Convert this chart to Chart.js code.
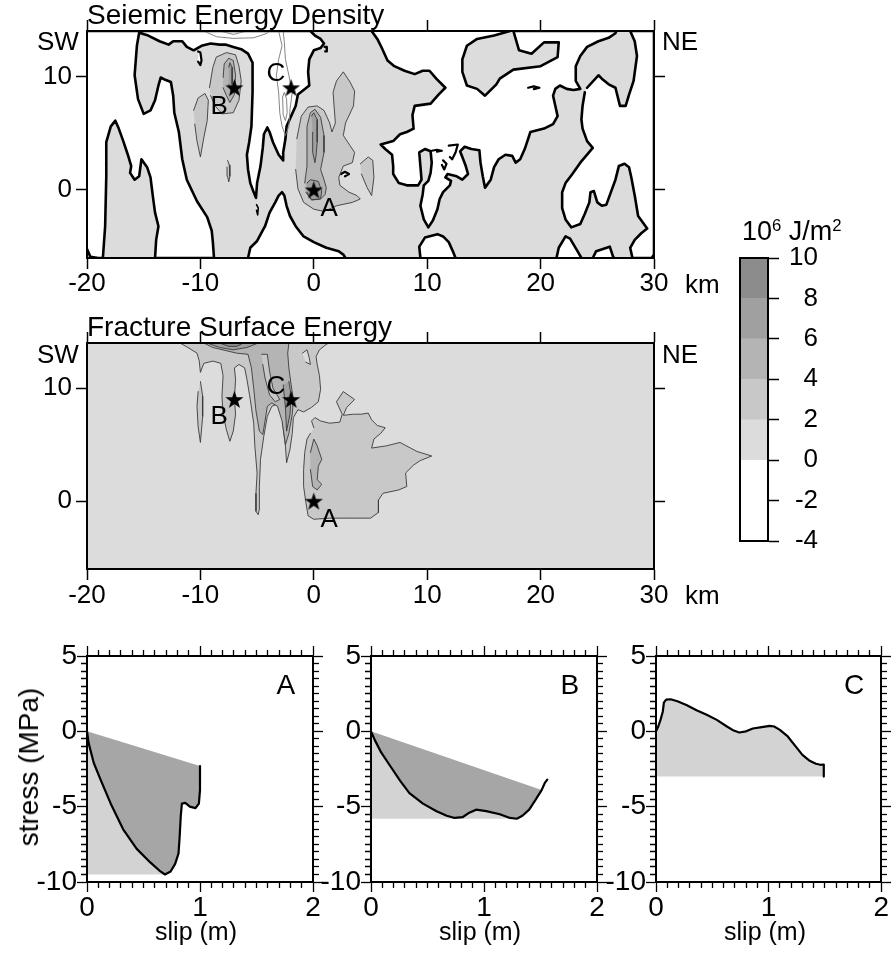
<!DOCTYPE html>
<html><head><meta charset="utf-8"><title>Seismic and fracture energy</title>
<script src="https://cdn.jsdelivr.net/npm/chart.js@4.4.1/dist/chart.umd.min.js"></script>
<style>
html,body{margin:0;padding:0;background:#fff;}
body{position:relative;width:891px;height:954px;overflow:hidden;font-family:"Liberation Sans",Arial,Helvetica,sans-serif;color:#000;}
canvas{position:absolute;}
.tx{position:absolute;white-space:nowrap;line-height:1;}
sup{font-size:62%;vertical-align:0;position:relative;top:-0.55em;}
</style></head><body>
<canvas id="sed" width="760" height="300" style="left:0;top:0"></canvas>
<canvas id="fse" width="760" height="320" style="left:0;top:300px"></canvas>
<canvas id="cbar" width="118" height="320" style="left:700px;top:240px"></canvas>
<canvas id="pA" width="330" height="324" style="left:0;top:630px"></canvas>
<canvas id="pB" width="330" height="324" style="left:290px;top:630px"></canvas>
<canvas id="pC" width="316" height="324" style="left:575px;top:630px"></canvas>
<div id="texts"></div>
<script>
// ---------------- DATA ----------------
const mapXTicks = [-20, -10, 0, 10, 20, 30];
const mapYTicks = [0, 10];
const mapXRange = [-20, 30];
const mapYRange = [-6, 14];
const colorLevels = [-4, 0, 2, 4, 6, 8, 10];
const hypocenters = [{name: 'A', x: 0, y: 0}, {name: 'B', x: -7, y: 9}, {name: 'C', x: -2, y: 9}];
const sedPointLabels = [{text: 'A', x: 1.35, y: -1.5}, {text: 'B', x: -8.35, y: 7.5}, {text: 'C', x: -3.35, y: 10.35}];
const fsePointLabels = [{text: 'A', x: 1.35, y: -1.5}, {text: 'B', x: -8.35, y: 7.6}, {text: 'C', x: -3.35, y: 10.3}];

// Seismic energy density: negative (below 0) regions, bounded by the 0 contour [km along strike, km]
const sedNegWest = [[-20,14],[-0.3,14],[0.1,13.6],[0.6,13.3],[0.9,12.9],[0.6,12.5],[0.0,12.3],[-0.4,11.5],[-0.5,10.4],[-0.4,9.2],[-0.9,8.8],[-1.4,8.4],[-1.6,7.4],[-2.0,6.5],[-2.4,5.6],[-2.5,4.5],[-2.7,3.3],[-2.7,2.6],[-3.1,3.1],[-3.6,4.2],[-3.9,5.1],[-4.1,5.5],[-4.4,4.9],[-4.5,3.7],[-4.7,2.1],[-5.0,0.6],[-5.1,-0.7],[-5.3,-0.2],[-5.6,0.6],[-5.8,1.8],[-5.9,3.1],[-5.7,4.2],[-5.5,5.6],[-5.4,8.6],[-5.4,11.2],[-5.8,12.0],[-6.4,12.4],[-7.1,12.6],[-7.8,12.8],[-8.3,12.8],[-9.1,12.9],[-9.9,12.7],[-10.6,12.3],[-11.2,12.6],[-11.6,13.1],[-12.4,13.1],[-12.8,12.8],[-13.6,13.1],[-14.6,13.6],[-15.4,13.85],[-15.6,12.7],[-15.8,10.1],[-15.5,8.0],[-15.0,6.7],[-14.4,7.0],[-14.0,7.9],[-13.7,9.2],[-13.5,9.9],[-13.1,9.7],[-12.6,9.5],[-12.4,8.3],[-12.3,6.8],[-11.9,5.1],[-11.6,2.7],[-11.2,0.9],[-10.3,-1.0],[-9.4,-2.4],[-9.0,-3.6],[-8.9,-4.6],[-8.8,-6],[-14.0,-6],[-13.9,-4.4],[-13.7,-3.2],[-14.0,-2.0],[-14.2,-0.5],[-14.4,1.1],[-14.7,2.0],[-15.2,2.7],[-15.4,1.2],[-15.8,0.9],[-16.2,1.5],[-16.1,2.1],[-16.4,3.1],[-16.8,4.3],[-17.2,5.4],[-17.5,6.1],[-17.9,5.6],[-18.3,4.2],[-18.3,1.2],[-18.4,-3.2],[-18.6,-6],[-19.0,-6],[-19.7,-5.9],[-20,-5.2]];
const sedNegMiddle = [[-5.8,-6],[-5.6,-5.1],[-5.0,-4.5],[-4.3,-3.2],[-3.9,-2.0],[-3.4,-1.1],[-3.1,-0.5],[-2.8,-0.2],[-2.6,-0.5],[-2.4,-1.4],[-2.1,-2.3],[-1.6,-3.2],[-0.9,-4.1],[0.0,-4.6],[1.1,-5.1],[2.2,-5.4],[2.6,-5.7],[2.8,-6]];
const sedNegNorth = [[5.1,14],[5.6,13.3],[6.0,12.5],[6.5,11.4],[7.1,10.9],[8.0,10.5],[8.9,10.2],[9.6,10.5],[10.2,10.5],[10.8,9.8],[11.6,9.0],[11.0,8.4],[10.3,7.6],[8.9,7.4],[8.7,6.6],[8.8,5.4],[8.2,5.1],[7.6,4.9],[7.0,4.3],[5.9,4.0],[6.3,3.6],[6.9,3.1],[7.0,2.1],[7.0,1.4],[7.5,0.6],[8.2,0.4],[9.2,0.4],[9.5,0.9],[9.4,2.1],[9.3,3.3],[9.8,3.6],[10.3,3.4],[10.4,2.4],[10.3,1.5],[10.1,0.8],[9.7,0.4],[9.6,-0.4],[9.4,-1.4],[9.7,-2.6],[10.1,-3.3],[10.5,-2.7],[10.9,-1.7],[11.1,-0.8],[11.4,-0.2],[12.0,0.4],[12.1,0.8],[11.6,1.1],[11.8,1.4],[12.6,1.2],[13.1,0.9],[13.6,1.4],[13.4,2.1],[13.1,2.9],[12.9,3.4],[13.3,3.8],[13.9,3.6],[14.6,3.5],[14.7,2.4],[14.9,1.2],[15.1,0.2],[15.6,0.9],[15.9,2.0],[16.3,2.7],[16.9,3.1],[17.5,3.0],[17.8,2.4],[18.2,2.7],[18.6,3.6],[19.1,5.1],[20.3,5.4],[21.1,5.8],[21.5,6.5],[21.3,7.4],[21.1,8.3],[21.3,8.9],[21.7,9.2],[22.3,8.9],[22.9,8.8],[23.5,8.9],[23.1,9.6],[23.1,10.9],[23.5,11.8],[24.1,12.6],[25.1,13.1],[26.0,13.4],[26.6,13.8],[26.7,14],[17.6,14],[18.1,12.3],[19.2,12.0],[20.3,13.0],[21.6,13.0],[21.5,11.7],[20.0,10.9],[17.6,10.6],[16.4,9.8],[16.1,9.3],[15.1,8.3],[14.4,8.9],[13.5,9.2],[13.1,10.4],[13.1,11.5],[13.5,12.7],[14.4,13.3],[15.9,13.6],[17.3,14]];
const sedNegEast = [[24.1,9.0],[25.1,10.1],[25.4,9.8],[26.0,9.3],[26.6,9.0],[27.0,7.4],[27.5,7.4],[27.8,8.4],[28.2,9.6],[28.5,11.8],[28.3,13.1],[27.9,14],[30,14],[30,-5.7],[29.8,-6],[28.1,-6],[27.9,-5.1],[28.3,-4.4],[28.9,-3.8],[29.4,-3.4],[28.6,-2.3],[28.3,-0.5],[28.0,1.1],[27.8,2.0],[27.4,2.3],[26.9,2.1],[26.6,0.9],[26.2,-0.2],[25.8,-1.3],[25.4,-1.4],[25.0,-1.1],[24.7,-0.1],[24.4,-0.2],[24.3,-1.1],[23.9,-2.1],[23.5,-3.0],[22.7,-3.3],[22.2,-2.6],[21.9,-1.6],[21.9,-0.2],[22.2,0.6],[22.8,1.4],[23.5,2.4],[24.1,3.1],[24.6,3.7],[24.1,4.3],[23.7,5.4],[23.6,6.2],[23.7,7.4],[23.9,8.6]];
const sedNegSouth1 = [[9.4,-6],[9.3,-5.0],[9.8,-4.2],[10.9,-3.9],[11.4,-4.1],[11.9,-4.6],[12.3,-5.5],[12.5,-6]];
const sedNegSouth2 = [[21.4,-6],[21.6,-5.1],[22.2,-4.1],[22.6,-4.3],[23.2,-5.3],[23.6,-6]];
const sedNegSouth3 = [[24.6,-6],[24.9,-5.4],[26.1,-5.0],[26.4,-5.9],[26.5,-6]];
const sedNegIsland1 = [[-10.2,12.2],[-10.0,12.1],[-9.9,11.4],[-10.0,11.0],[-10.2,11.3]];
const sedNegIsland2 = [[2.4,1.4],[2.75,1.6],[3.1,1.4],[2.75,1.2]];
const sedNegIsland3 = [[18.9,9.0],[19.4,9.12],[19.9,9.0],[19.4,8.88]];
const sedNegIsland4 = [[0.95,12.6],[1.1,12.6],[1.15,12.2],[1.0,12.2]];
const sedNegIsland5 = [[11.9,3.9],[12.7,4.0],[12.5,3.3],[12.2,2.7],[12.0,2.9]];
const sedNegIsland6 = [[11.4,2.6],[11.7,2.3],[11.5,1.8],[11.3,2.2]];
const sedNegIsland7 = [[10.4,3.45],[10.85,3.53],[11.3,3.45],[10.85,3.37]];
const sedNegIsland8 = [[-5.05,-1.3],[-4.9,-1.6],[-4.95,-2.2],[-5.05,-1.8]];
// open negative contours (-2 level) in the low-energy channel
const sedNegContour1 = [[-3.1,14],[-2.8,12.7],[-3.1,11.5],[-3.3,10.1],[-3.1,8.6],[-3.0,6.8],[-2.8,5.6],[-2.5,4.8],[-2.2,5.6],[-2.1,7.1],[-1.9,8.6],[-2.2,10.1],[-2.5,11.5],[-2.6,13.0],[-2.7,14]];
const sedNegContour2 = [[-2.75,8.2],[-2.7,6.6],[-2.5,6.1],[-2.35,6.8],[-2.4,8.0],[-2.6,8.6],[-2.75,8.2]];
const sedNegContour3 = [[-9.7,14],[-8.6,13.5],[-7.1,13.35],[-5.3,13.4],[-4.1,13.8],[-3.9,14]];
const sedNegContour4 = [[-8.3,14],[-7.1,13.7],[-5.9,14]];
// 2, 4, 6 contours of seismic energy density
const sedLevel2B = [[-9.2,9.0],[-8.9,10.8],[-8.6,11.7],[-7.7,12.1],[-6.9,11.9],[-6.6,10.9],[-6.4,9.6],[-6.6,7.9],[-7.1,6.8],[-8.1,6.7],[-8.7,7.4],[-9.1,8.3]];
const sedLevel2W = [[-10.6,7.0],[-10.2,8.1],[-9.6,8.5],[-9.3,7.9],[-9.4,6.1],[-9.7,4.6],[-10.0,2.9],[-10.3,4.3],[-10.5,5.8]];
const sedLevel2S = [[-7.6,2.6],[-7.45,2.2],[-7.4,1.2],[-7.5,0.7],[-7.6,1.2],[-7.65,2.0]];
const sedLevel2A = [[-1.5,4.5],[-1.1,6.5],[-0.5,7.3],[0.3,7.4],[0.9,7.0],[1.4,5.9],[1.6,5.1],[1.9,5.9],[1.7,8.6],[2.0,9.6],[2.6,10.4],[3.2,9.5],[3.6,8.7],[3.5,7.4],[2.8,5.9],[2.6,4.8],[3.2,3.9],[3.6,3.3],[3.4,2.4],[2.6,2.1],[2.2,1.1],[2.3,0.4],[3.1,-0.2],[3.8,-0.5],[4.1,-0.8],[3.4,-1.1],[2.0,-1.4],[0.9,-1.9],[0.0,-1.7],[-0.9,-1.1],[-1.4,0.1],[-1.6,1.8]];
const sedLevel2E = [[4.1,2.3],[4.8,2.9],[5.2,2.6],[5.3,1.1],[5.1,-0.5],[4.7,0.2],[4.2,1.4]];
const sedLevel4B = [[-8.0,9.9],[-7.9,11.1],[-7.5,11.6],[-7.1,11.4],[-6.9,10.1],[-7.0,8.4],[-7.4,7.7],[-7.7,8.3],[-8.0,9.0]];
const sedLevel4A = [[-0.8,0.6],[-0.6,2.1],[-0.6,5.6],[-0.3,6.8],[0.1,7.1],[0.6,6.4],[0.9,4.8],[0.9,3.3],[0.6,1.8],[0.9,0.9],[1.1,0.2],[1.0,-0.4],[0.6,-0.8],[-0.2,-0.9],[-0.7,-0.2]];
const sedLevel6B = [[-7.5,10.8],[-7.4,11.2],[-7.2,10.8],[-7.2,9.3],[-7.3,8.7],[-7.5,9.3]];
const sedLevel6A = [[-0.2,6.5],[0.0,6.8],[0.3,6.2],[0.3,4.2],[0.2,3.0],[0.1,2.4],[-0.1,3.3],[-0.1,5.1]];
const sedLevel6A0 = [[-0.6,0.6],[-0.3,0.9],[0.4,0.75],[0.7,-0.1],[0.6,-0.8],[-0.2,-0.85],[-0.6,-0.2]];

// Fracture surface energy contours (everything else is 0-2)
const fseLevel2N = [[-11.8,14],[-11.1,13.6],[-10.3,13.1],[-10.1,12.4],[-10.0,11.4],[-9.7,12.2],[-8.9,12.4],[-8.2,12.2],[-8.0,11.1],[-8.1,9.3],[-8.0,7.7],[-7.7,6.3],[-7.4,5.3],[-7.1,6.2],[-6.9,7.7],[-7.0,9.0],[-6.9,10.8],[-7.0,11.8],[-6.6,12.1],[-6.1,11.8],[-5.9,10.8],[-5.6,9.0],[-5.3,6.9],[-5.2,4.9],[-5.0,2.5],[-5.1,0.7],[-5.1,-0.9],[-4.9,-1.2],[-4.8,-0.7],[-4.8,1.3],[-4.7,3.7],[-4.4,5.8],[-4.1,7.5],[-3.7,8.4],[-3.2,8.6],[-2.8,8.0],[-2.7,6.5],[-2.5,4.9],[-2.4,3.4],[-2.1,4.6],[-1.9,6.0],[-1.8,7.4],[-1.4,8.1],[-0.9,7.9],[-0.2,8.3],[0.4,8.8],[0.6,9.9],[0.5,11.1],[0.3,12.1],[0.2,12.8],[0.5,13.4],[1.0,13.8],[1.3,14]];
const fseLevel2W = [[-10.0,10.6],[-9.8,9.3],[-9.8,7.5],[-10.0,5.2],[-10.2,6.6],[-10.3,8.4],[-10.2,9.7]];
const fseLevel2A = [[0.0,6.5],[-0.2,7.1],[0.1,7.4],[0.6,7.1],[1.4,6.9],[2.3,7.0],[2.5,7.7],[2.0,8.8],[2.6,9.7],[3.6,9.0],[2.9,8.3],[2.6,7.6],[3.5,7.7],[4.2,7.7],[4.8,7.8],[5.1,7.2],[5.6,6.7],[6.3,6.5],[5.9,6.0],[5.3,5.5],[5.1,4.7],[6.4,4.9],[7.6,5.2],[9.1,4.4],[10.4,4.0],[9.4,3.6],[8.8,3.2],[8.1,2.5],[8.2,1.3],[7.5,1.0],[6.1,0.7],[5.7,0.1],[5.7,-1.0],[5.0,-1.5],[3.2,-1.5],[1.4,-1.5],[0.0,-1.6],[-0.5,-1.3],[-0.7,-0.1],[-0.9,1.3],[-0.9,2.8],[-0.8,4.3],[-0.6,5.5],[-0.3,6.0]];
const fseLevel4N = [[-9.7,14],[-8.9,13.6],[-6.8,13.1],[-5.8,13.0],[-5.5,11.8],[-5.3,10.0],[-5.1,8.0],[-4.8,6.2],[-4.5,5.9],[-4.3,7.1],[-4.1,8.4],[-3.7,8.7],[-3.2,8.4],[-2.8,7.1],[-2.5,5.0],[-2.2,6.0],[-1.9,7.7],[-1.8,9.0],[-2.0,10.3],[-2.2,11.8],[-2.3,13.1],[-2.2,14]];
const fseLevel4A = [[-0.3,4.3],[0.0,5.5],[0.3,4.9],[0.7,3.7],[0.4,3.1],[0.3,1.9],[0.7,1.5],[0.3,1.0],[-0.1,1.3],[-0.3,2.8]];
const fseLevel2C = [[-4.6,13.0],[-4.1,13.0],[-3.9,11.5],[-3.6,10.0],[-3.0,9.0],[-3.4,8.8],[-3.9,9.4],[-4.3,10.9],[-4.5,12.1]];
const fseLevel6N = [[-9.4,14],[-8.3,13.6],[-7.1,13.4],[-5.9,13.6],[-4.9,14]];
const fseLevel6C = [[-2.7,10.3],[-2.5,8.3],[-2.4,6.2],[-2.1,7.7],[-2.0,9.4],[-2.2,10.6]];
const fseLevel8N = [[-8.3,14],[-7.5,13.7],[-6.8,13.7],[-6.2,14]];
const fseLevel0C = [[-1.0,13.1],[-0.6,13.4],[-0.4,12.7],[-0.3,12.1],[-0.7,12.3]];

// Stress (MPa) vs slip (m) at points A, B, C
const slipTicksMajor = [0, 1, 2];
const stressTicksMajor = [5, 0, -5, -10];
const curveA = [[0,0],[0.015,-0.8],[0.06,-2.1],[0.12,-3.2],[0.21,-4.8],[0.32,-6.5],[0.44,-7.8],[0.56,-8.7],[0.65,-9.3],[0.69,-9.5],[0.74,-9.3],[0.78,-8.8],[0.81,-8.1],[0.82,-7.0],[0.83,-5.6],[0.84,-4.8],[0.87,-4.75],[0.91,-5.0],[0.96,-5.1],[0.99,-4.8],[1.0,-3.9],[1.0,-3.0],[1.0,-2.3]];
const curveB = [[0,0],[0.035,-0.6],[0.09,-1.4],[0.17,-2.3],[0.26,-3.3],[0.34,-4.1],[0.46,-4.8],[0.58,-5.3],[0.67,-5.6],[0.74,-5.75],[0.81,-5.7],[0.87,-5.4],[0.93,-5.2],[1.02,-5.3],[1.14,-5.5],[1.23,-5.75],[1.29,-5.8],[1.34,-5.6],[1.40,-5.2],[1.46,-4.5],[1.51,-3.9],[1.54,-3.4],[1.56,-3.2]];
const curveC = [[0,0],[0.02,0.32],[0.04,0.76],[0.06,1.3],[0.07,1.9],[0.09,2.1],[0.13,2.13],[0.19,2.0],[0.27,1.75],[0.36,1.4],[0.45,1.1],[0.54,0.76],[0.63,0.32],[0.69,0.05],[0.74,-0.08],[0.80,0.0],[0.86,0.19],[0.94,0.28],[1.01,0.36],[1.05,0.32],[1.10,0.1],[1.17,-0.34],[1.24,-1.0],[1.30,-1.56],[1.36,-1.93],[1.42,-2.15],[1.46,-2.22],[1.49,-2.2],[1.49,-3.0]];
const chordEndSlipA = 1.0;
const chordEndSlipB = 1.51;
const chordEndSlipC = null;

// ---------------- STYLE / HELPERS ----------------
const FF = '"Liberation Sans", Arial, Helvetica, sans-serif';
const GREY = {neg: '#ffffff', l0: '#dcdcdc', l2: '#c8c8c8', l4: '#b4b4b4', l6: '#a0a0a0', l8: '#8c8c8c'};
const THIN = '#3a3a3a';
const pts = a => a.map(p => ({x: p[0], y: p[1]}));

function poly(a, fillColor, lineColor, lineWidth) {
  return {type: 'line', data: pts(a), fill: fillColor ? 'shape' : false, backgroundColor: fillColor || 'rgba(0,0,0,0)',
    borderColor: lineColor || 'rgba(0,0,0,0)', borderWidth: lineWidth || 0, pointRadius: 0, tension: 0,
    borderJoinStyle: 'round', borderCapStyle: 'round'};
}
function ordered(list) { list.forEach((d, i) => { d.order = -i; }); return list; }

function makeStar(r) {
  const s = document.createElement('canvas');
  const size = Math.ceil(2 * r + 2);
  s.width = s.height = size;
  const c = s.getContext('2d');
  c.translate(size / 2, size / 2 + 0.8);
  c.beginPath();
  for (let i = 0; i < 10; i++) {
    const rad = i % 2 ? r * 0.4 : r;
    const a = -Math.PI / 2 + i * Math.PI / 5;
    c.lineTo(rad * Math.cos(a), rad * Math.sin(a));
  }
  c.closePath(); c.fillStyle = '#000'; c.fill();
  return s;
}
const STAR = makeStar(9.5);

const areaBg = {id: 'areaBg', beforeDatasetsDraw(chart, args, opts) {
  if (!opts || !opts.color) return;
  const a = chart.chartArea, c = chart.ctx;
  c.save(); c.fillStyle = opts.color; c.fillRect(a.left, a.top, a.right - a.left, a.bottom - a.top); c.restore();
}};
const textMarks = {id: 'textMarks', afterDatasetsDraw(chart, args, opts) {
  if (!opts || !opts.items) return;
  const c = chart.ctx;
  c.save(); c.font = opts.font; c.fillStyle = '#000'; c.textAlign = 'center'; c.textBaseline = 'alphabetic';
  for (const it of opts.items) {
    const x = chart.scales.x.getPixelForValue(it.x), y = chart.scales.y.getPixelForValue(it.y);
    c.fillText(it.text, x, y + opts.shift);
  }
  c.restore();
}};
Chart.register(areaBg, textMarks);

const fixed = v => s => { if (s.isHorizontal()) s.height = v; else s.width = v; };
const setTicks = arr => s => { s.ticks = arr.map(v => ({value: v})); };
const BORDER = {display: true, color: '#000', width: 2, z: 2};

function mapOptions(dims, labels) {
  const tickFont = {family: FF, size: 26, lineHeight: 1};
  const gridMaj = {drawOnChartArea: false, tickLength: 11, tickColor: '#000', tickWidth: 1.5, z: 2};
  return {
    responsive: false, animation: false, events: [], devicePixelRatio: 1,
    layout: {padding: 0},
    plugins: {legend: {display: false}, tooltip: {enabled: false}, areaBg: {color: GREY.l0},
      textMarks: {items: labels, font: '26px ' + FF, shift: 9}},
    scales: {
      x: {type: 'linear', position: 'bottom', min: mapXRange[0], max: mapXRange[1], afterBuildTicks: setTicks(mapXTicks),
        ticks: {font: tickFont, color: '#000', padding: dims.xpad, maxRotation: 0, autoSkip: false, callback: v => String(v)},
        grid: gridMaj, border: BORDER, afterFit: fixed(dims.b)},
      x2: {type: 'linear', position: 'top', min: mapXRange[0], max: mapXRange[1], afterBuildTicks: setTicks(mapXTicks),
        ticks: {display: false}, grid: gridMaj, border: BORDER, afterFit: fixed(dims.t)},
      y: {type: 'linear', position: 'left', min: mapYRange[0], max: mapYRange[1], afterBuildTicks: setTicks(mapYTicks),
        ticks: {font: tickFont, color: '#000', padding: 4, autoSkip: false, callback: v => String(v)},
        grid: gridMaj, border: BORDER, afterFit: fixed(dims.l)},
      y2: {type: 'linear', position: 'right', min: mapYRange[0], max: mapYRange[1], afterBuildTicks: setTicks(mapYTicks),
        ticks: {display: false}, grid: gridMaj, border: BORDER, afterFit: fixed(dims.r)}
    }
  };
}
function starDataset() {
  return {type: 'line', data: hypocenters.map(h => ({x: h.x, y: h.y})), showLine: false,
    pointStyle: STAR, pointRadius: 10, pointHoverRadius: 10, borderWidth: 0, backgroundColor: '#000'};
}

// ---------------- SEISMIC ENERGY DENSITY MAP ----------------
const THICK = 2.6;
const sedSets = ordered([
  poly(sedNegWest, GREY.neg, '#000', THICK),
  poly(sedNegMiddle, GREY.neg, '#000', THICK),
  poly(sedNegNorth, GREY.neg, '#000', THICK),
  poly(sedNegEast, GREY.neg, '#000', THICK),
  poly(sedNegSouth1, GREY.neg, '#000', THICK),
  poly(sedNegSouth2, GREY.neg, '#000', THICK),
  poly(sedNegSouth3, GREY.neg, '#000', THICK),
  poly(sedNegIsland1, GREY.neg, '#000', 2.2),
  poly(sedNegIsland2, GREY.neg, '#000', 2.2),
  poly(sedNegIsland3, GREY.neg, '#000', 2.2),
  poly(sedNegIsland4, GREY.neg, '#000', 2.2),
  poly(sedNegIsland5, GREY.neg, '#000', 2.2),
  poly(sedNegIsland6, GREY.neg, '#000', 2.2),
  poly(sedNegIsland7, GREY.neg, '#000', 2.0),
  poly(sedNegIsland8, GREY.neg, '#000', 1.6),
  poly(sedNegContour1, null, '#777', 0.9),
  poly(sedNegContour2, null, '#777', 0.9),
  poly(sedNegContour3, null, '#777', 0.9),
  poly(sedNegContour4, null, '#777', 0.9),
  poly(sedLevel2B, GREY.l2, THIN, 0.9),
  poly(sedLevel2W, GREY.l2, THIN, 0.9),
  poly(sedLevel2S, GREY.l2, THIN, 0.9),
  poly(sedLevel2A, GREY.l2, THIN, 0.9),
  poly(sedLevel2E, GREY.l2, THIN, 0.9),
  poly(sedLevel4B, GREY.l4, THIN, 0.9),
  poly(sedLevel4A, GREY.l4, THIN, 0.9),
  poly(sedLevel6B, GREY.l6, THIN, 0.9),
  poly(sedLevel6A, GREY.l6, THIN, 0.9),
  poly(sedLevel6A0, GREY.l6, THIN, 0.9),
  starDataset()
]);
new Chart(document.getElementById('sed'), {type: 'line', data: {datasets: sedSets},
  options: mapOptions({l: 87, r: 106, t: 31, b: 42, xpad: 2}, sedPointLabels)});

// ---------------- FRACTURE SURFACE ENERGY MAP ----------------
const fseSets = ordered([
  poly(fseLevel2N, GREY.l2, THIN, 0.9),
  poly(fseLevel2W, GREY.l2, THIN, 0.9),
  poly(fseLevel2A, GREY.l2, THIN, 0.9),
  poly(fseLevel4N, GREY.l4, THIN, 0.9),
  poly(fseLevel4A, GREY.l4, THIN, 0.9),
  poly(fseLevel2C, GREY.l2, THIN, 0.9),
  poly(fseLevel0C, GREY.l0, THIN, 0.9),
  poly(fseLevel6N, GREY.l6, THIN, 0.9),
  poly(fseLevel6C, GREY.l6, THIN, 0.9),
  poly(fseLevel8N, GREY.l8, THIN, 0.9),
  starDataset()
]);
new Chart(document.getElementById('fse'), {type: 'line', data: {datasets: fseSets},
  options: mapOptions({l: 87, r: 106, t: 43, b: 51, xpad: 2.5}, fsePointLabels)});

// ---------------- COLOUR SCALE ----------------
const cbColors = [GREY.neg, GREY.l0, GREY.l2, GREY.l4, GREY.l6, GREY.l8];
new Chart(document.getElementById('cbar'), {
  type: 'bar',
  data: {labels: ['energy'], datasets: colorLevels.slice(0, -1).map((lo, i) => ({
    data: [[lo, colorLevels[i + 1]]], backgroundColor: cbColors[i], borderWidth: 0,
    barPercentage: 1, categoryPercentage: 1, grouped: false}))},
  options: {
    responsive: false, animation: false, events: [], devicePixelRatio: 1, layout: {padding: 0},
    plugins: {legend: {display: false}, tooltip: {enabled: false}},
    scales: {
      x: {position: 'bottom', ticks: {display: false}, grid: {drawOnChartArea: false, drawTicks: false}, border: BORDER, afterFit: fixed(19)},
      x2: {type: 'category', labels: ['energy'], position: 'top', ticks: {display: false}, grid: {drawOnChartArea: false, drawTicks: false}, border: BORDER, afterFit: fixed(18)},
      y: {position: 'left', min: colorLevels[0], max: colorLevels[colorLevels.length - 1], ticks: {display: false},
        grid: {drawOnChartArea: false, drawTicks: false}, border: BORDER, afterFit: fixed(40)},
      y2: {type: 'linear', position: 'right', min: colorLevels[0], max: colorLevels[colorLevels.length - 1], afterBuildTicks: setTicks(colorLevels.concat([-2])),
        ticks: {font: {family: FF, size: 26}, color: '#000', crossAlign: 'far', padding: 2, autoSkip: false, callback: v => String(v)},
        grid: {drawOnChartArea: false, tickLength: 11, tickColor: '#000', tickWidth: 1.5, z: 2}, border: BORDER, afterFit: fixed(50)}
    }
  }
});

// ---------------- STRESS - SLIP PANELS ----------------
const slipTickValues = Array.from({length: 21}, (_, i) => Math.round(i * 10) / 100);
const stressTickValues = Array.from({length: 31}, (_, i) => -10 + i * 0.5);
const isMajorSlip = v => slipTicksMajor.some(m => Math.abs(m - v) < 1e-6);
const isMajorStress = v => stressTicksMajor.some(m => Math.abs(m - v) < 1e-6);

function panel(id, curve, chordEnd, letter, dims) {
  let iMin = 0;
  curve.forEach((p, i) => { if (p[1] <= curve[iMin][1]) iMin = i; });
  const floor = curve[iMin][1];
  const light = curve.slice(0, iMin + 1).concat([[0, floor]]);
  const sets = [poly(light, '#d3d3d3', null, 0)];
  if (chordEnd !== null) {
    const dark = curve.filter(p => p[0] <= chordEnd + 1e-9);
    sets.push(poly(dark, '#a6a6a6', null, 0));
  }
  sets.push(poly(curve, null, '#000', 2.2));
  const tickFont = {family: FF, size: 28, lineHeight: 1};
  const dashOut = major => major ? [] : [5, 100];   // ticks drawn from the frame outward
  const dashIn = major => major ? [] : [0, 4, 5, 100]; // ticks drawn toward the frame
  const gx = fn => ({drawOnChartArea: false, tickLength: 10, tickColor: '#000', tickWidth: 1.3, z: 2,
    tickBorderDash: ctx => fn(ctx.tick ? isMajorSlip(ctx.tick.value) : true)});
  const gy = fn => ({drawOnChartArea: false, tickLength: 10, tickColor: '#000', tickWidth: 1.3, z: 2,
    tickBorderDash: ctx => fn(ctx.tick ? isMajorStress(ctx.tick.value) : true)});
  new Chart(document.getElementById(id), {type: 'line', data: {datasets: ordered(sets)},
    options: {
      responsive: false, animation: false, events: [], devicePixelRatio: 1, layout: {padding: 0},
      plugins: {legend: {display: false}, tooltip: {enabled: false},
        textMarks: {items: [{text: letter, x: 1.76, y: 3.15}], font: '28px ' + FF, shift: 10}},
      scales: {
        x: {type: 'linear', position: 'bottom', min: 0, max: 2, afterBuildTicks: setTicks(slipTickValues),
          ticks: {font: tickFont, color: '#000', padding: 2, maxRotation: 0, autoSkip: false,
            callback: v => isMajorSlip(v) ? String(Math.round(v)) : ''},
          grid: gx(dashOut), border: BORDER, afterFit: fixed(dims.b)},
        x2: {type: 'linear', position: 'top', min: 0, max: 2, afterBuildTicks: setTicks(slipTickValues),
          ticks: {display: false}, grid: gx(dashIn), border: BORDER, afterFit: fixed(dims.t)},
        y: {type: 'linear', position: 'left', min: -10, max: 5, afterBuildTicks: setTicks(stressTickValues),
          ticks: {font: tickFont, color: '#000', padding: 0, autoSkip: false,
            callback: v => isMajorStress(v) ? String(Math.round(v)) : ''},
          grid: gy(dashIn), border: BORDER, afterFit: fixed(dims.l)},
        y2: {type: 'linear', position: 'right', min: -10, max: 5, afterBuildTicks: setTicks(stressTickValues),
          ticks: {display: false}, grid: gy(dashOut), border: BORDER, afterFit: fixed(dims.r)}
      }
    }
  });
}
panel('pA', curveA, chordEndSlipA, 'A', {l: 87, r: 17, t: 26, b: 72});
panel('pB', curveB, chordEndSlipB, 'B', {l: 81, r: 23, t: 26, b: 72});
panel('pC', curveC, chordEndSlipC, 'C', {l: 81, r: 9, t: 26, b: 72});

// ---------------- HTML TEXT ----------------
const texts = [
  {html: 'Seiemic Energy Density', x: 87, base: 25, size: 28},
  {html: 'SW', x: 37, base: 50, size: 26},
  {html: 'NE', x: 662, base: 50, size: 26},
  {html: 'km', x: 685, base: 293, size: 26},
  {html: 'Fracture Surface Energy', x: 87, base: 337, size: 28},
  {html: 'SW', x: 37, base: 363, size: 26},
  {html: 'NE', x: 662, base: 363, size: 26},
  {html: 'km', x: 685, base: 604, size: 26},
  {html: '10<sup>6</sup> J/m<sup>2</sup>', x: 742, base: 241, size: 27},
  {html: 'slip (m)', cx: 196, base: 940, size: 25},
  {html: 'slip (m)', cx: 480, base: 940, size: 25},
  {html: 'slip (m)', cx: 765, base: 940, size: 25}
];
const holder = document.getElementById('texts');
for (const t of texts) {
  const d = document.createElement('div');
  d.className = 'tx';
  d.innerHTML = t.html;
  d.style.fontSize = t.size + 'px';
  d.style.top = (t.base - 0.8465 * t.size) + 'px';
  if (t.cx !== undefined) { d.style.left = t.cx + 'px'; d.style.transform = 'translateX(-50%)'; }
  else d.style.left = t.x + 'px';
  holder.appendChild(d);
}
const ys = document.createElement('div');
ys.className = 'tx';
ys.textContent = 'stress (MPa)';
ys.style.fontSize = '28px';
ys.style.left = '29px'; ys.style.top = '767px';
ys.style.transform = 'translate(-50%,-50%) rotate(-90deg)';
holder.appendChild(ys);
</script>
</body></html>
